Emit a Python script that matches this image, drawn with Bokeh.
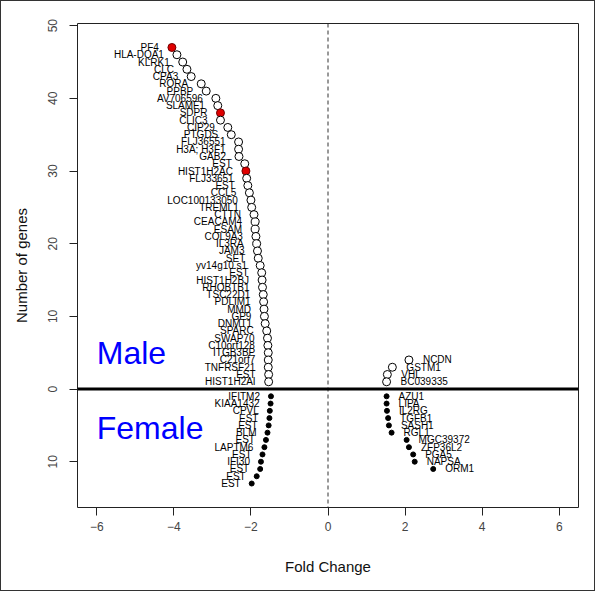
from bokeh.plotting import figure
from bokeh.models import ColumnDataSource, FixedTicker, Span, Range1d
from bokeh.core.properties import value
from bokeh.embed import file_html
from bokeh.resources import INLINE

# ---- data ----
male_left_genes = ["PF4", "HLA-DQA1", "KLRK1", "CLC", "CPA3", "RORA", "PPBP", "AV706596",
                   "SLAMF1", "SDPR", "CLIC3", "CIP29", "PTGDS", "FLJ36551", "H3A; H3F1",
                   "GAB2", "EST", "HIST1H2AC", "FLJ33651", "EST", "CCL5", "LOC100133050",
                   "TREML1", "CTTN", "CEACAM4", "ESAM", "COL9A3", "IL3RA", "JAM3", "SET",
                   "yv14g10.s1", "EST", "HIST1H2BJ", "RHOBTB1", "TSC22D1", "PDLIM1", "MMD",
                   "GP9", "DNMT1", "SPARC", "SWAP70", "C10orf128", "ITGB3BP", "C21orf7",
                   "TNFRSF21", "EST", "HIST1H2AI"]
male_left_fc = [-4.05, -3.92, -3.77, -3.66, -3.55, -3.29, -3.16, -2.91, -2.86, -2.79, -2.79,
                -2.60, -2.51, -2.32, -2.32, -2.31, -2.16, -2.13, -2.11, -2.08, -2.04, -2.00,
                -1.98, -1.92, -1.89, -1.89, -1.87, -1.85, -1.83, -1.81, -1.76, -1.72, -1.71,
                -1.70, -1.68, -1.67, -1.66, -1.65, -1.63, -1.59, -1.57, -1.56, -1.55, -1.55,
                -1.55, -1.54, -1.54]
male_left_n = list(range(47, 0, -1))
male_left_highlight = [n in (47, 38, 30) for n in male_left_n]

male_right_genes = ["NCDN", "GSTM1", "VHL", "BC039335"]
male_right_fc = [2.10, 1.67, 1.54, 1.52]
male_right_n = [4, 3, 2, 1]

female_left_genes = ["IFITM2", "KIAA1432", "CPVL", "EST", "EST", "BLM", "EST", "LAPTM6",
                     "EST", "IFI30", "EST", "EST", "EST"]
female_left_fc = [-1.48, -1.49, -1.51, -1.52, -1.54, -1.57, -1.61, -1.65, -1.70, -1.74,
                  -1.76, -1.85, -1.98]
female_left_n = [-1, -2, -3, -4, -5, -6, -7, -8, -9, -10, -11, -12, -13]

female_right_genes = ["AZU1", "LIPA", "IL2RG", "TGFB1", "SASH1", "RGL1", "MGC39372",
                      "ZFP36L2", "PGA5", "NAPSA", "ORM1"]
female_right_fc = [1.52, 1.52, 1.53, 1.56, 1.58, 1.65, 2.04, 2.10, 2.21, 2.25, 2.73]
female_right_n = [-1, -2, -3, -4, -5, -6, -7, -8, -9, -10, -11]

group_labels = ["Male", "Female"]
group_x = [-6.0, -6.0]
group_y = [5.0, -5.3]

x_ticks = [-6, -4, -2, 0, 2, 4, 6]
y_ticks = [-10, 0, 10, 20, 30, 40, 50]
y_tick_labels = ["10", "0", "10", "20", "30", "40", "50"]

FONT = value("Liberation Sans")

p = figure(width=595, height=591, x_range=Range1d(-6.5, 6.5), y_range=Range1d(-16.3, 50.3),
           output_backend="svg", toolbar_location=None,
           min_border_left=76, min_border_right=18, min_border_top=22, min_border_bottom=85)
p.styles = {"border": "1px solid #333333"}
p.grid.visible = False
p.outline_line_color = "#222222"
p.outline_line_width = 1
p.background_fill_color = "white"
p.border_fill_color = "white"

for ax in (p.xaxis[0], p.yaxis[0]):
    ax.axis_line_color = None
    ax.major_tick_in = 0
    ax.major_tick_out = 8
    ax.major_tick_line_color = "#222222"
    ax.minor_tick_line_color = None
    ax.major_label_text_font = "Liberation Sans"
    ax.major_label_text_font_size = "12px"
    ax.major_label_text_color = "#444444"
    ax.axis_label_text_font = "Liberation Sans"
    ax.axis_label_text_font_size = "15px"
    ax.axis_label_text_font_style = "normal"
    ax.axis_label_text_color = "#111111"

p.xaxis.ticker = FixedTicker(ticks=x_ticks)
p.xaxis.axis_label = "Fold Change"
p.xaxis.major_label_standoff = 6
p.xaxis.axis_label_standoff = 24

p.yaxis.ticker = FixedTicker(ticks=y_ticks)
p.yaxis.major_label_overrides = {t: l for t, l in zip(y_ticks, y_tick_labels)}
p.yaxis.major_label_orientation = "vertical"
p.yaxis.axis_label = "Number of genes"
p.yaxis.major_label_standoff = 12
p.yaxis.axis_label_standoff = 16

# reference lines
p.add_layout(Span(location=0, dimension="height", line_color="#333333",
                  line_width=1, line_dash="4 3"))
p.add_layout(Span(location=0, dimension="width", line_color="black", line_width=3))

LABEL_SIZE = "10px"

# male (open circles, some highlighted in red)
ml = ColumnDataSource(dict(x=male_left_fc, y=male_left_n, g=male_left_genes,
                           fill=["#e00000" if h else "white" for h in male_left_highlight],
                           line=["#700000" if h else "black" for h in male_left_highlight]))
p.scatter("x", "y", source=ml, size=8, fill_color="fill", line_color="line", line_width=1)
p.text("x", "y", text="g", source=ml, text_align="right", text_baseline="middle",
       x_offset=-13, text_font=FONT, text_font_size=LABEL_SIZE, text_color="black")

mr = ColumnDataSource(dict(x=male_right_fc, y=male_right_n, g=male_right_genes))
p.scatter("x", "y", source=mr, size=8, fill_color="white", line_color="black", line_width=1)
p.text("x", "y", text="g", source=mr, text_align="left", text_baseline="middle",
       x_offset=14, text_font=FONT, text_font_size=LABEL_SIZE, text_color="black")

# female (filled dots)
fl = ColumnDataSource(dict(x=female_left_fc, y=female_left_n, g=female_left_genes))
p.scatter("x", "y", source=fl, size=5, fill_color="black", line_color="black")
p.text("x", "y", text="g", source=fl, text_align="right", text_baseline="middle",
       x_offset=-11, text_font=FONT, text_font_size=LABEL_SIZE, text_color="black")

fr = ColumnDataSource(dict(x=female_right_fc, y=female_right_n, g=female_right_genes))
p.scatter("x", "y", source=fr, size=5, fill_color="black", line_color="black")
p.text("x", "y", text="g", source=fr, text_align="left", text_baseline="middle",
       x_offset=12, text_font=FONT, text_font_size=LABEL_SIZE, text_color="black")

# group labels
p.text(x=group_x, y=group_y, text=group_labels, text_align="left",
       text_baseline="alphabetic", text_font=FONT, text_font_size="32px",
       text_color="#0000ff")

open("out.html", "w").write(file_html(p, INLINE))
